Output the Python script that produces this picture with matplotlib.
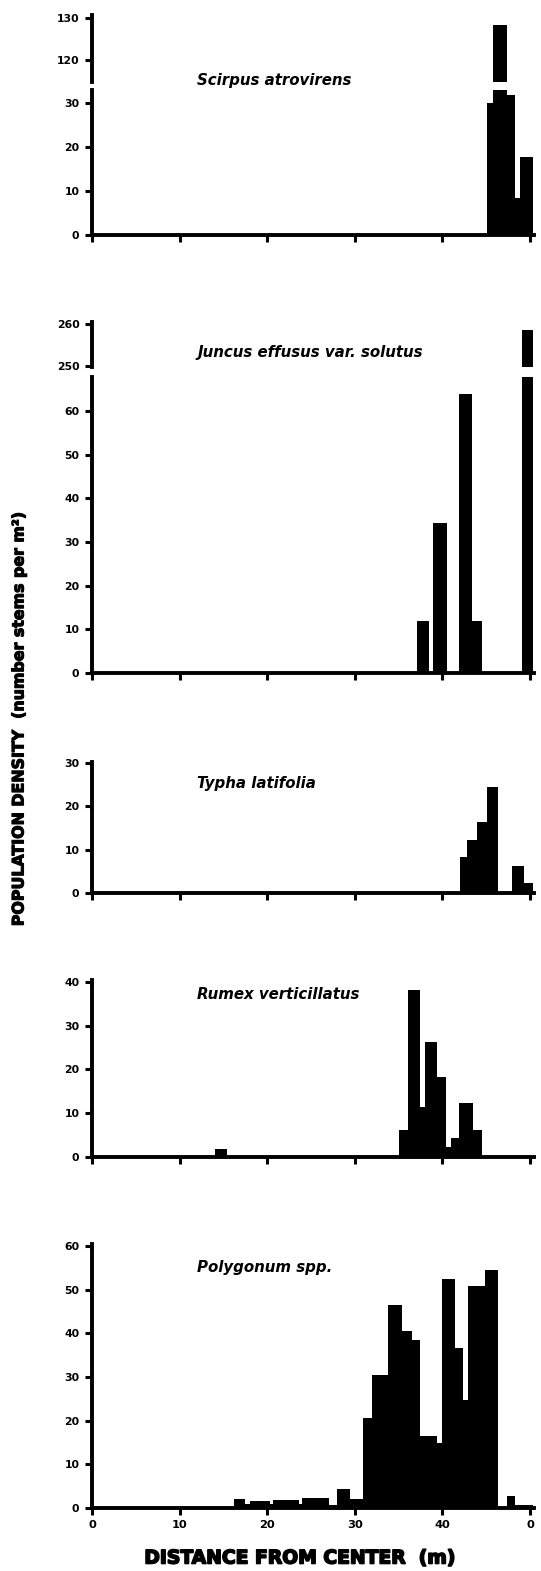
import matplotlib
matplotlib.use("Agg")
import matplotlib.pyplot as plt
import matplotlib.patheffects as pe

# ---------------- data ----------------
x_ticks = [0, 10, 20, 30, 40, 50]
x_tick_labels = ["0", "10", "20", "30", "40", "0"]

species = ["Scirpus atrovirens", "Juncus effusus var. solutus", "Typha latifolia",
           "Rumex verticillatus", "Polygonum spp."]

# distance-interval edges (m) and density (stems per m^2) for each interval
scirpus_edges = [0, 45.06, 45.8, 47.34, 48.29, 48.86, 50.38]
scirpus_density = [0, 30, 128.4, 31.9, 8.4, 17.8]

juncus_edges = [0, 37.07, 38.5, 38.97, 40.49, 41.94, 43.35, 44.49, 49.05, 50.38]
juncus_density = [0, 12, 0, 34.3, 0, 64, 12, 0, 258.4]

typha_edges = [0, 42.0, 42.85, 43.9, 45.06, 46.4, 47.9, 49.3, 50.38]
typha_density = [0, 8.4, 12.2, 16.4, 24.5, 0, 6.3, 2.3]

rumex_edges = [0, 14.07, 15.4, 35.1, 36.12, 37.45, 38.02, 39.43, 40.42, 40.95,
               41.94, 43.46, 44.49, 50.38]
rumex_density = [0, 1.9, 0, 6.1, 38.1, 11.4, 26.3, 18.3, 2.3, 4.4, 12.3, 6.2, 0]

polygonum_edges = [0, 16.2, 17.5, 18.0, 20.3, 20.7, 23.6, 24.0, 27.0, 28.0, 29.4,
                   30.99, 31.94, 33.84, 35.36, 36.5, 37.45, 39.35, 39.92, 41.44,
                   42.4, 42.97, 44.87, 46.39, 47.34, 48.29, 50.38]
polygonum_density = [0, 2.1, 1, 1.6, 1, 1.9, 1, 2.3, 0.8, 4.3, 2, 20.6, 30.5, 46.6,
                     40.5, 38.5, 16.6, 14.9, 52.4, 36.6, 24.8, 50.8, 54.6, 0, 2.7, 0.8]

scirpus_yticks_low = [0, 10, 20, 30]
scirpus_yticks_high = [120, 130]
juncus_yticks_low = [0, 10, 20, 30, 40, 50, 60]
juncus_yticks_high = [250, 260]
juncus_yticklabels_high = ["250", "260"]
typha_yticks = [0, 10, 20, 30]
rumex_yticks = [0, 10, 20, 30, 40]
polygonum_yticks = [0, 10, 20, 30, 40, 50, 60]

# ---------------- layout ----------------
W, H = 541, 1571
fig = plt.figure(figsize=(W / 100, H / 100), dpi=100)
fig.patch.set_facecolor("white")

X0, X1 = 92, 533.5
XMAX = 50.4


def make_ax(top, bottom):
    return fig.add_axes([X0 / W, 1 - bottom / H, (X1 - X0) / W, (bottom - top) / H])


def style(ax, lower, show_xlabels=False):
    ax.set_xlim(0, XMAX)
    for s in ["top", "right"]:
        ax.spines[s].set_visible(False)
    ax.spines["left"].set_linewidth(2.8)
    ax.spines["bottom"].set_linewidth(2.8)
    ax.tick_params(axis="y", direction="out", length=5, width=2.2, pad=4,
                   labelsize=7.8)
    if lower:
        ax.set_xticks(x_ticks)
        ax.tick_params(axis="x", direction="out", length=5, width=2.2, pad=4,
                       labelsize=8.2)
        if show_xlabels:
            ax.set_xticklabels(x_tick_labels, fontweight="bold")
        else:
            ax.set_xticklabels([])
    else:
        ax.spines["bottom"].set_visible(False)
        ax.set_xticks([])
    for lab in ax.get_yticklabels() + ax.get_xticklabels():
        lab.set_fontweight("bold")
    ax.set_facecolor("none")


def draw(ax, edges, vals):
    ax.stairs(vals, edges, fill=True, color="black", linewidth=0)


# Panel 1: Scirpus (broken axis)
a1u = make_ax(15, 82)
draw(a1u, scirpus_edges, scirpus_density)
a1u.set_ylim(114.8, 130.8)
a1u.set_yticks(scirpus_yticks_high)
style(a1u, lower=False)
a1l = make_ax(90, 235)
draw(a1l, scirpus_edges, scirpus_density)
a1l.set_ylim(0, 33)
a1l.set_yticks(scirpus_yticks_low)
style(a1l, lower=True)

# Panel 2: Juncus (broken axis)
a2u = make_ax(322, 367)
draw(a2u, juncus_edges, juncus_density)
a2u.set_ylim(249.7, 260.4)
a2u.set_yticks(juncus_yticks_high)
a2u.set_yticklabels(juncus_yticklabels_high)
style(a2u, lower=False)
a2l = make_ax(377, 673)
draw(a2l, juncus_edges, juncus_density)
a2l.set_ylim(0, 67.8)
a2l.set_yticks(juncus_yticks_low)
style(a2l, lower=True)

# Panel 3: Typha
a3 = make_ax(762, 893)
draw(a3, typha_edges, typha_density)
a3.set_ylim(0, 30.2)
a3.set_yticks(typha_yticks)
style(a3, lower=True)

# Panel 4: Rumex
a4 = make_ax(980, 1157)
draw(a4, rumex_edges, rumex_density)
a4.set_ylim(0, 40.4)
a4.set_yticks(rumex_yticks)
style(a4, lower=True)

# Panel 5: Polygonum
a5 = make_ax(1244, 1508)
draw(a5, polygonum_edges, polygonum_density)
a5.set_ylim(0, 60.5)
a5.set_yticks(polygonum_yticks)
style(a5, lower=True, show_xlabels=True)

# Species names
title_baselines = [85, 357, 788, 999, 1272]
for name, yb in zip(species, title_baselines):
    fig.text(197 / W, 1 - yb / H, name, ha="left", va="baseline", fontsize=10.8,
             fontweight="bold", style="italic")

# Axis labels
fig.text(19 / W, 1 - 718 / H, "POPULATION DENSITY  (number stems per m²)",
         rotation=90, ha="center", va="center", fontsize=11.4, fontweight="bold",
         path_effects=[pe.withStroke(linewidth=0.8, foreground="black")])
fig.text(300 / W, 1 - 1558 / H, "DISTANCE FROM CENTER  (m)", ha="center",
         va="center", fontsize=13.5, fontweight="bold",
         path_effects=[pe.withStroke(linewidth=1.2, foreground="black")])

fig.savefig("out.png", dpi=100, facecolor="white")
